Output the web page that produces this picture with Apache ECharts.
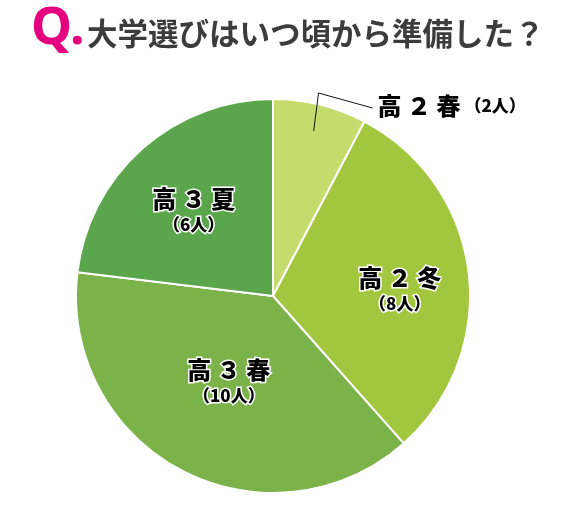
<!DOCTYPE html>
<html>
<head>
<meta charset="utf-8">
<script src="https://cdn.jsdelivr.net/npm/echarts@6/dist/echarts.min.js"></script>
<style>
html,body{margin:0;padding:0;background:#fff;}
#c{width:570px;height:520px;}
</style>
</head>
<body>
<div id="c"></div>
<script>
// ---- data ----
const categories = ['高2春', '高2冬', '高3春', '高3夏'];
const counts = [2, 8, 10, 6];
const unit = '人';
const titleQ = 'Q.';
const titleText = '大学選びはいつ頃から準備した？';

// ---- style ----
const colors = ['#c5dc6d', '#a3c63f', '#7cb24a', '#5ba64c'];
const labelShift = [null, [26, 6], [3, -4], [-12, -9]];
const FONT = '"Noto Sans CJK JP"';

function fw(s) {
  return s.replace(/\d/g, d => String.fromCharCode(d.charCodeAt(0) + 0xFEE0)).split('').join(' ');
}

const chart = echarts.init(document.getElementById('c'), null, {renderer: 'canvas'});

const baseData = categories.map((name, i) => ({
  name: name,
  value: counts[i],
  itemStyle: {color: colors[i]},
  label: {show: i !== 0}
}));

// overlay series: carries only the outside label + leader line (drawn above the slices)
const overlayData = categories.map((name, i) => {
  const item = {name: name, value: counts[i]};
  if (i === 0) {
    item.label = {show: true};
    item.labelLine = {show: true};
  } else {
    item.label = {show: false};
    item.labelLine = {show: false};
  }
  return item;
});

chart.setOption({
  animation: false,
  backgroundColor: '#fff',
  graphic: [
    {type: 'text', x: 31, y: 29, style: {text: titleQ, font: 'bold 52px "Noto Sans"', fill: '#e4007f', textVerticalAlign: 'middle'}},
    {type: 'text', x: 87, y: 33, style: {text: titleText, font: 'bold 30.5px ' + FONT, fill: '#3c3c3c', textVerticalAlign: 'middle'}}
  ],
  series: [{
    type: 'pie',
    z: 2,
    center: [273, 296],
    radius: 197,
    startAngle: 90,
    clockwise: true,
    itemStyle: {borderColor: '#fff', borderWidth: 2},
    emphasis: {disabled: true},
    label: {
      show: true,
      position: 'inside',
      formatter: p => '{a|' + fw(p.name) + '}\n{b|（' + p.value + unit + '）}',
      rich: {
        a: {fontSize: 24, fontWeight: 900, color: '#000', lineHeight: 28, fontFamily: FONT, textBorderColor: '#fff', textBorderWidth: 3},
        b: {fontSize: 17, fontWeight: 900, color: '#000', lineHeight: 24, fontFamily: FONT, textBorderColor: '#fff', textBorderWidth: 3}
      }
    },
    labelLayout: function (params) {
      const s = labelShift[params.dataIndex];
      return s ? {dx: s[0], dy: s[1]} : {};
    },
    data: baseData
  }, {
    type: 'pie',
    z: 3,
    silent: true,
    center: [273, 296],
    radius: 197,
    startAngle: 90,
    clockwise: true,
    itemStyle: {color: 'rgba(0,0,0,0)', borderWidth: 0},
    emphasis: {disabled: true},
    label: {
      position: 'outside',
      formatter: p => '{a|' + fw(p.name) + '}{b| （' + p.value + unit + '）}',
      rich: {
        a: {fontSize: 24, fontWeight: 900, color: '#000', fontFamily: FONT},
        b: {fontSize: 17, fontWeight: 900, color: '#000', fontFamily: FONT}
      }
    },
    labelLine: {length: 10, length2: 50, lineStyle: {color: '#111', width: 1}},
    labelLayout: function (params) {
      const pts = params.labelLinePoints;
      if (!pts) return {};
      const p0 = pts[0], p1 = pts[1], p2 = pts[2];
      const vx = p0[0] - p1[0], vy = p0[1] - p1[1];
      const len = Math.sqrt(vx * vx + vy * vy) || 1;
      return {
        dy: 11,
        labelLinePoints: [
          [p0[0] + vx / len * 27, p0[1] + vy / len * 27],
          [p1[0] - 4, p1[1] - 2],
          [p2[0], p2[1] + 13]
        ]
      };
    },
    data: overlayData
  }]
});
</script>
</body>
</html>
